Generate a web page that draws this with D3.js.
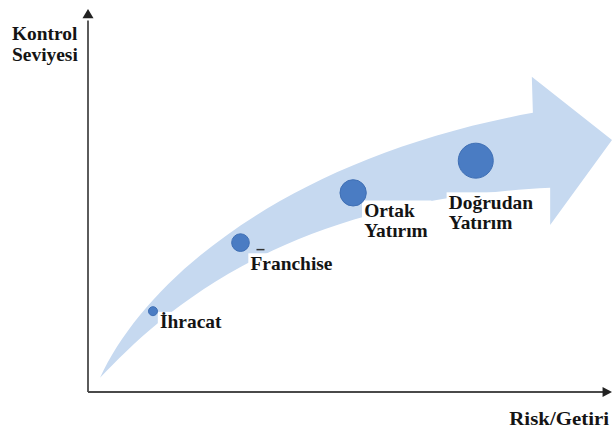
<!DOCTYPE html>
<html>
<head>
<meta charset="utf-8">
<script src="https://cdn.jsdelivr.net/npm/d3@7"></script>
<style>
  html, body { margin: 0; padding: 0; background: #ffffff; }
  svg { display: block; }
</style>
</head>
<body>
<svg id="chart" width="612" height="436"></svg>
<script>
// Entry modes ordered by risk/return and level of control
const categories = ["İhracat", "Franchise", "Ortak Yatırım", "Doğrudan Yatırım"];
const riskValues = [12.4, 29.1, 50.6, 74.0];
const controlValues = [21.1, 39.0, 52.0, 60.4];
const commitmentLevels = [1, 2, 3, 4];

const axisTitleY = ["Kontrol", "Seviyesi"];
const axisTitleX = "Risk/Getiri";

// Rising arrow, in the same risk/control units as the points:
// cubic edges (start, control, control, end) plus the arrow head
const bandUpper = [[2.3, 3.7], [11.8, 31.9], [40.5, 61.9], [84.9, 72.9]];
const bandHead = [[84.7, 82.3], [100, 65.8], [88.2, 43.6], [88.2, 53.3]];
const bandLower = [[88.2, 53.3], [36.6, 50.1], [13.7, 20.1], [2.3, 3.7]];

const svg = d3.select("#chart");

const x = d3.scaleLinear().domain([0, 100]).range([88, 612]);
const y = d3.scaleLinear().domain([0, 100]).range([392, 9]);
const radius = d3.scaleLinear().domain([1, 4]).range([4.5, 17.5]);

const FONT = "'Liberation Serif', 'Times New Roman', serif";
const INK = "#141414";
const FONT_SIZE = 18;
const STRETCH = 1.08;

// Arrow band
const px = d => [x(d[0]), y(d[1])];
const bp = d3.path();
bp.moveTo(...px(bandUpper[0]));
bp.bezierCurveTo(...px(bandUpper[1]), ...px(bandUpper[2]), ...px(bandUpper[3]));
bandHead.forEach(d => bp.lineTo(...px(d)));
bp.bezierCurveTo(...px(bandLower[1]), ...px(bandLower[2]), ...px(bandLower[3]));
bp.closePath();

svg.append("path")
  .attr("d", bp.toString())
  .attr("fill", "#c6d9f0");

// Axes with arrow tips
const axisG = svg.append("g");
axisG.append("line")
  .attr("x1", x(0)).attr("y1", y(0))
  .attr("x2", x(0)).attr("y2", y(97))
  .attr("stroke", "#333").attr("stroke-width", 1.6);
axisG.append("path")
  .attr("d", `M${x(0)},${y(100)}L${x(0) - 5.5},${y(97.6)}L${x(0) + 5.5},${y(97.6)}Z`)
  .attr("fill", "#222");

axisG.append("line")
  .attr("x1", x(0)).attr("y1", y(0))
  .attr("x2", x(98.5)).attr("y2", y(0))
  .attr("stroke", "#4a4a4a").attr("stroke-width", 2);
axisG.append("path")
  .attr("d", `M${x(100)},${y(0)}L${x(98.2)},${y(0) - 5}L${x(98.2)},${y(0) + 5}Z`)
  .attr("fill", "#222");

// Stretched bold serif text block on a white backing
function textBlock(parent, lines, lx, ly, gap, anchor, stretch) {
  const g = parent.append("g")
    .attr("transform", `translate(${lx},${ly}) scale(${stretch || STRETCH},1)`);
  const bg = g.append("rect").attr("fill", "#ffffff");
  const t = g.append("text")
    .attr("font-family", FONT).attr("font-weight", "bold")
    .attr("font-size", FONT_SIZE).attr("fill", INK)
    .attr("text-anchor", anchor || "start");
  lines.forEach((w, k) => {
    t.append("tspan").attr("x", 0).attr("y", k * gap).text(w);
  });
  return { g, bg, t };
}

// Axis titles
textBlock(svg, axisTitleY, 12, 40, 21);
textBlock(svg, [axisTitleX], 609, 425, 0, "end", 1.16);

// Label placement relative to each point (pixels)
const labelOffsets = [
  { dx: 7, dy: 17 },
  { dx: 10, dy: 27 },
  { dx: 11, dy: 24 },
  { dx: -27, dy: 48 }
];
const lineGap = 20;

const points = categories.map((c, i) => ({
  name: c,
  risk: riskValues[i],
  control: controlValues[i],
  level: commitmentLevels[i]
}));

const labelG = svg.append("g");
points.forEach((p, i) => {
  const lx = x(p.risk) + labelOffsets[i].dx;
  const ly = y(p.control) + labelOffsets[i].dy;
  const blk = textBlock(labelG, p.name.split(" "), lx, ly, lineGap);
  const bb = blk.t.node().getBBox();
  blk.bg.attr("x", bb.x - 2).attr("y", bb.y)
    .attr("width", bb.width + 5).attr("height", bb.height + 1);
});

// Small mark above the Franchise label
svg.append("line")
  .attr("x1", x(riskValues[1]) + 16).attr("x2", x(riskValues[1]) + 24)
  .attr("y1", y(controlValues[1]) + 7).attr("y2", y(controlValues[1]) + 7)
  .attr("stroke", "#333").attr("stroke-width", 1.5);

// Points
svg.append("g")
  .selectAll("circle")
  .data(points)
  .join("circle")
  .attr("cx", d => x(d.risk))
  .attr("cy", d => y(d.control))
  .attr("r", d => radius(d.level))
  .attr("fill", "#4a7cc3")
  .attr("stroke", "#3f6fb4")
  .attr("stroke-width", 1);
</script>
</body>
</html>
